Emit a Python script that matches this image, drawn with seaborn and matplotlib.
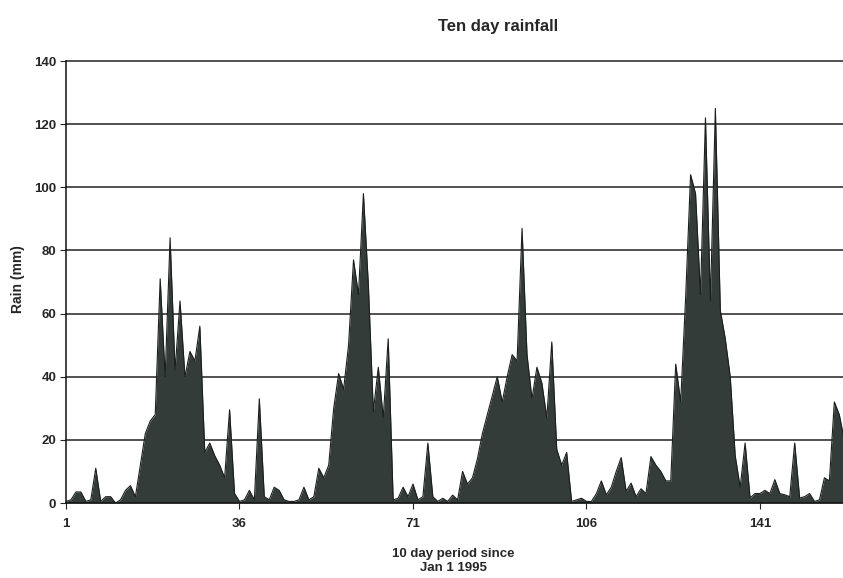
import numpy as np
import pandas as pd
import matplotlib
matplotlib.use("Agg")
import matplotlib.pyplot as plt
import seaborn as sns

# ---- data: rainfall (mm) per ten-day period since Jan 1 1995 ----
rain_seg1 = [0.5, 1, 3.5, 3.5, 0.5, 1, 11, 0.5, 2, 2,
             0, 1, 4, 5.5, 2, 12, 22, 26, 28, 71,
             40, 84, 42, 64, 40, 48, 45, 56, 16, 19,
             15, 12, 8, 29.5, 3, 0.5, 1, 4, 1, 33,
             2]
rain_seg2 = [1, 5, 4, 1, 0.5, 0.5, 1, 5, 1, 2,
             11, 8, 12, 30, 41, 36, 50, 77, 66, 98,
             69, 29, 43, 27, 52, 1, 1.5, 5, 2, 6,
             1, 2, 19, 2, 0.5, 1.5, 0.5, 2.5, 1]
rain_seg3 = [10, 6, 8, 14, 22, 28, 34, 40, 32, 40,
             47, 45, 87, 47, 33, 43, 38, 27, 51, 17,
             12, 16, 0.5, 1, 1.5, 0.5, 0.5, 3, 7, 2.6,
             5, 10, 14.4, 3.7, 6.3, 2]
rain_seg4 = [4.5, 3, 14.7, 12, 10, 7, 7, 44, 32, 65,
             104, 98, 66, 122, 64, 125, 61, 52, 40, 15,
             5, 19, 1.6, 3, 3, 4, 3, 7.4, 3, 2.6,
             2, 19, 1.6, 2, 3, 0.5, 1, 8, 7, 32,
             28, 20]
rain = rain_seg1 + rain_seg2 + rain_seg3 + rain_seg4
periods = list(range(1, len(rain) + 1))

x_ticks = [1, 36, 71, 106, 141]
y_ticks = [0, 20, 40, 60, 80, 100, 120, 140]

title = "Ten day rainfall"
x_label = "10 day period since\nJan 1 1995"
y_label = "Rain (mm)"

df = pd.DataFrame({"period": periods, "rain": rain})

sns.set_style("white")
plt.rcParams["font.family"] = ["Liberation Sans", "DejaVu Sans"]

fig = plt.figure(figsize=(8.43, 5.78), dpi=100)
ax = fig.add_axes([66 / 843, 75 / 578, 1 - 66 / 843, 442 / 578])

fill_color = "#343c3a"
ax.fill_between(df["period"], df["rain"], 0, color=fill_color, linewidth=0, zorder=2)
sns.lineplot(data=df, x="period", y="rain", ax=ax, color="#1a1f1e",
             linewidth=0.8, zorder=3, legend=False)

ax.set_xlim(1, 1 + (843 - 66) / 4.957)
ax.set_ylim(0, 140)
ax.set_xticks(x_ticks)
ax.set_yticks(y_ticks)
ax.set_xticklabels([str(t) for t in x_ticks], fontsize=9.5, fontweight="bold")
ax.set_yticklabels([str(t) for t in y_ticks], fontsize=9.5, fontweight="bold")
ax.tick_params(axis="y", direction="out", length=4, width=0.8, pad=3, left=True)
ax.tick_params(axis="x", direction="out", length=4, width=0.8, pad=7, bottom=True)

for yv in y_ticks[1:]:
    ax.axhline(yv, color="#222222", linewidth=1.1, zorder=1, clip_on=False)

for side in ["top", "right"]:
    ax.spines[side].set_visible(False)
for side in ["left", "bottom"]:
    ax.spines[side].set_color("#111111")
    ax.spines[side].set_linewidth(1.1)
    ax.spines[side].set_zorder(4)

ax.set_xlabel("")
ax.set_ylabel("")

fig.text(18 / 843, 1 - 279 / 578, y_label, ha="center", va="center",
         rotation=90, fontsize=10, fontweight="bold")
fig.text(498 / 843, 1 - 27 / 578, title, ha="center", va="center",
         fontsize=12, fontweight="bold")
fig.text(453 / 843, (578 - 561) / 578, x_label, ha="center", va="center",
         fontsize=9.5, fontweight="bold", linespacing=1.25)

fig.savefig("out.png", dpi=100)
